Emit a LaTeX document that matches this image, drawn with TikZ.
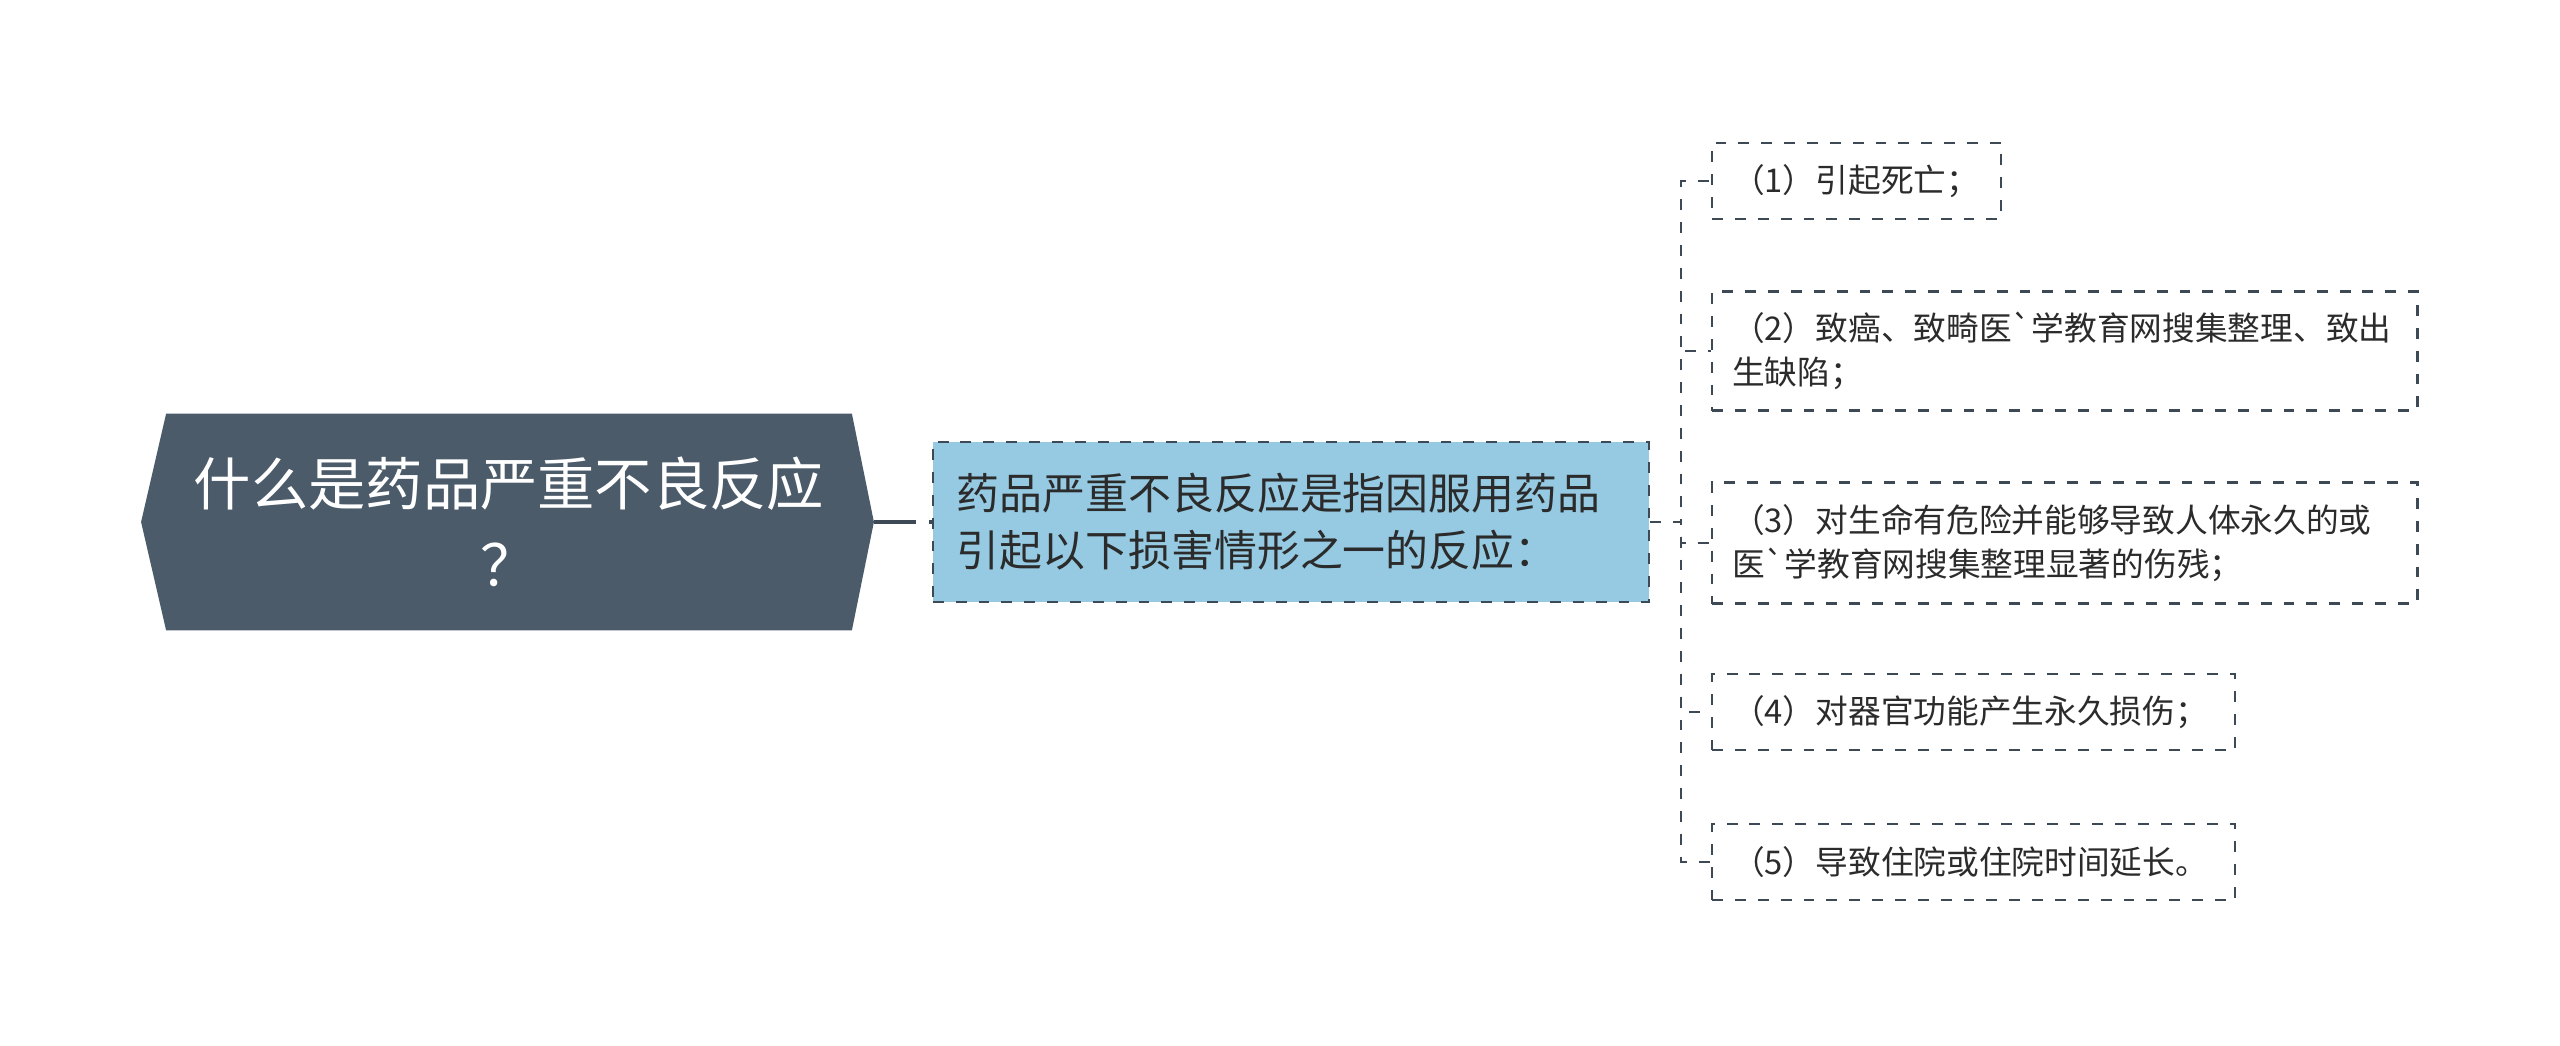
\documentclass[tikz,border=0pt]{standalone}
\usepackage{fontspec}
\usetikzlibrary{backgrounds}
\newfontfamily\cjk{Noto Sans CJK SC}
\definecolor{rootfill}{HTML}{4B5B6A}
\definecolor{linecol}{HTML}{3D4A56}
\definecolor{bluefill}{HTML}{95CAE2}
\definecolor{textcol}{HTML}{2B2B2B}
\begin{document}
\begin{tikzpicture}[x=0.01cm, y=-0.01cm,
    rootbox/.style={text=white, minimum width=6.84cm, minimum height=2.15cm,
        inner sep=0pt, align=center, font=\cjk\fontsize{16.3}{23.2}\selectfont},
    dashline/.style={draw=linecol, line width=0.6pt, dash pattern=on 3.1pt off 3.4pt},
    midbox/.style={dashline, fill=bluefill, minimum height=1.6cm, text width=6.68cm,
        inner xsep=0.24cm, align=left, text=textcol, font=\cjk\fontsize{12.2}{16.2}\selectfont},
    leafbox/.style={dashline, anchor=west, inner xsep=0.2cm, align=left, minimum height=0.76cm,
        text=textcol, font=\cjk\fontsize{9.3}{12.5}\selectfont}]
    \useasboundingbox (0,0) rectangle (2560,1045);
    \node[rootbox] (root) at (509,522) {什么是药品严重不良反应\\？};
    \begin{pgfonlayer}{background}
        \fill[rootfill] (root.north west) -- ([xshift=-0.25cm]root.west) -- (root.south west)
            -- (root.south east) -- ([xshift=0.22cm]root.east) -- (root.north east) -- cycle;
    \end{pgfonlayer}
    \node[midbox] (def) at (1291,522) {药品严重不良反应是指因服用药品\\引起以下损害情形之一的反应：};
    \draw[draw=linecol, line width=1pt, dash pattern=on 0.42cm off 0.13cm] ([xshift=0.22cm]root.east) -- (def.west);
    % harm list
    \node[leafbox, text width=2.49cm] (harm1) at (1711,181) {（1）引起死亡；};
    \node[leafbox, text width=6.65cm, minimum height=1.19cm] (harm2) at (1711,351) {（2）致癌、致畸医`学教育网搜集整理、致出\\生缺陷；};
    \node[leafbox, text width=6.65cm, minimum height=1.21cm] (harm3) at (1711,543) {（3）对生命有危险并能够导致人体永久的或\\医`学教育网搜集整理显著的伤残；};
    \node[leafbox, text width=4.83cm] (harm4) at (1711,712) {（4）对器官功能产生永久损伤；};
    \node[leafbox, text width=4.83cm] (harm5) at (1711,862) {（5）导致住院或住院时间延长。};
    \foreach \k in {1,...,5}
        \draw[dashline] (def.east) -- ++(0.31cm,0) |- (harm\k.west);
\end{tikzpicture}
\end{document}
